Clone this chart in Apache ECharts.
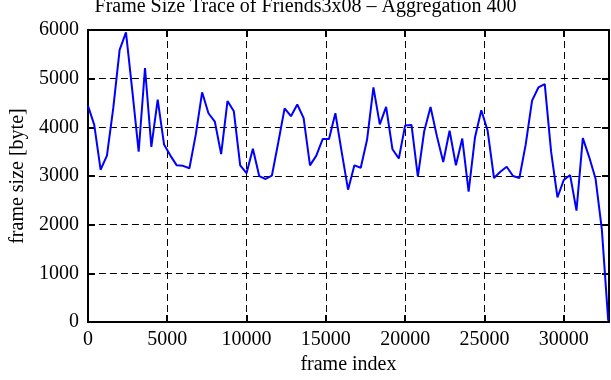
<!DOCTYPE html>
<html>
<head>
<meta charset="utf-8">
<script src="https://cdn.jsdelivr.net/npm/echarts@6/dist/echarts.min.js"></script>
<style>html,body{margin:0;padding:0;background:#fff}#c{width:611px;height:380px}</style>
</head>
<body>
<div id="c"></div>
<script>
const titleText = "Frame Size Trace of Friends3x08 \u2013 Aggregation 400";
const xName = "frame index";
const yName = "frame size [byte]";
const frameIndex = [0,400,800,1200,1600,2000,2400,2800,3200,3600,4000,4400,4800,5200,5600,6000,6400,6800,7200,7600,
8000,8400,8800,9200,9600,10000,10400,10800,11200,11600,12000,12400,12800,13200,13600,14000,14400,14800,15200,15600,
16000,16400,16800,17200,17600,18000,18400,18800,19200,19600,20000,20400,20800,21200,21600,22000,22400,22800,23200,23600,
24000,24400,24800,25200,25600,26000,26400,26800,27200,27600,28000,28400,28800,29200,29600,30000,30400,30800,31200,31600,
32000,32400,32800];
const frameSize = [4450,4050,3130,3420,4400,5590,5950,4750,3500,5220,3600,4570,3650,3420,3220,3210,3160,3850,4720,4290,
4120,3450,4540,4330,3220,3060,3560,3000,2940,3010,3690,4390,4230,4470,4190,3220,3420,3760,3760,4290,
3490,2720,3220,3170,3750,4820,4060,4420,3550,3360,4040,4050,2990,3920,4420,3820,3290,3930,3220,3770,
2680,3790,4350,3930,2960,3090,3190,3000,2960,3650,4550,4820,4890,3500,2560,2920,3020,2290,3780,3390,
2950,1900,30];
const xMin = 0, xMax = 32850, xStep = 5000;
const yMin = 0, yMax = 6000, yStep = 1000;

const font = "'Liberation Serif', 'DejaVu Serif', serif";
const chart = echarts.init(document.getElementById('c'), null, {renderer: 'canvas'});
const dash = {type: [7, 4], color: '#000', width: 1};
const axisBase = {
  type: 'value',
  axisLine: {show: true, onZero: false, lineStyle: {color: '#000', width: 2}},
  axisTick: {show: true, inside: true, length: 7, lineStyle: {color: '#000', width: 2}},
};
chart.setOption({
  animation: false,
  backgroundColor: '#fff',
  title: {
    text: titleText, left: 'center', top: -3, padding: 0,
    textStyle: {fontFamily: font, fontSize: 20, fontWeight: 'normal', color: '#000'}
  },
  grid: {left: 81, top: 30, width: 528, height: 300, containLabel: false},
  xAxis: [
    Object.assign({}, axisBase, {
      position: 'bottom', min: xMin, max: xMax, interval: xStep,
      name: xName, nameLocation: 'middle', nameGap: 28,
      nameTextStyle: {fontFamily: font, fontSize: 20, color: '#000'},
      axisLabel: {show: true, margin: 8, fontFamily: font, fontSize: 20, color: '#000',
        showMaxLabel: false, formatter: v => String(v)},
      splitLine: {show: true, lineStyle: dash}
    }),
    Object.assign({}, axisBase, {
      position: 'top', min: xMin, max: xMax, interval: xStep,
      axisLabel: {show: false}, splitLine: {show: false}
    })
  ],
  yAxis: [
    Object.assign({}, axisBase, {
      position: 'left', min: yMin, max: yMax, interval: yStep,
      name: yName, nameLocation: 'middle', nameGap: 58, nameRotate: 90,
      nameTextStyle: {fontFamily: font, fontSize: 20, color: '#000'},
      axisLabel: {show: true, margin: 9, fontFamily: font, fontSize: 20, color: '#000',
        formatter: v => String(v)},
      splitLine: {show: true, lineStyle: dash}
    }),
    Object.assign({}, axisBase, {
      position: 'right', min: yMin, max: yMax, interval: yStep,
      axisLabel: {show: false}, splitLine: {show: false}
    })
  ],
  series: [{
    type: 'line',
    data: frameIndex.map((x, i) => [x, frameSize[i]]),
    xAxisIndex: 0, yAxisIndex: 0,
    showSymbol: false, symbol: 'none',
    lineStyle: {color: '#0000ff', width: 2},
    itemStyle: {color: '#0000ff'},
    clip: true
  }]
});
</script>
</body>
</html>
